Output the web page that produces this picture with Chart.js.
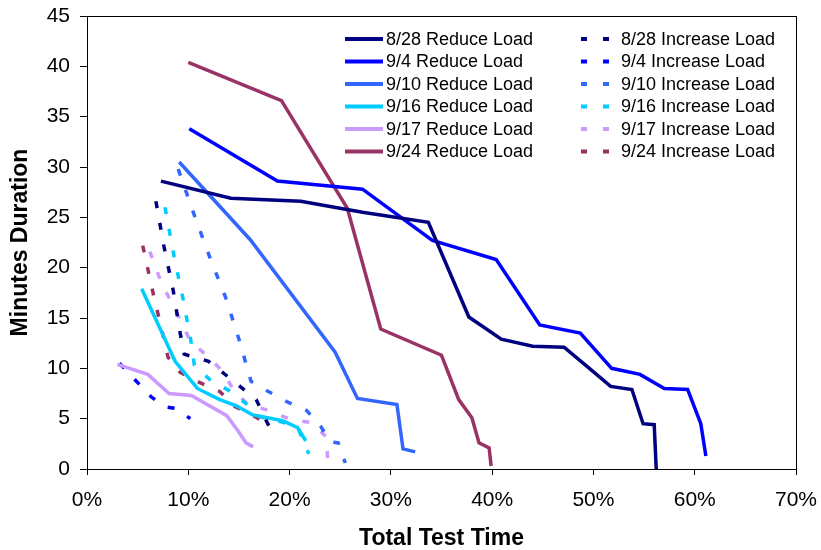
<!DOCTYPE html>
<html>
<head>
<meta charset="utf-8">
<script src="https://cdn.jsdelivr.net/npm/chart.js@4.4.0/dist/chart.umd.min.js"></script>
<style>
  html, body { margin: 0; padding: 0; background: #fff; }
  #wrap { width: 821px; height: 550px; }
</style>
</head>
<body>
<div id="wrap"><canvas id="loadChart" width="821" height="550"></canvas></div>
<script>
// tick values
const xTickValues = [0, 10, 20, 30, 40, 50, 60, 70];
const yTickValues = [0, 5, 10, 15, 20, 25, 30, 35, 40, 45];

// series names
const dates = ['8/28', '9/4', '9/10', '9/16', '9/17', '9/24'];

// reduce load runs: [% of total test time, minutes]
const reduce0828 = [[7.3,28.6],[14.2,26.9],[21.1,26.6],[27.2,25.5],[33.7,24.5],[37.7,15.1],[40.9,12.9],[44.0,12.2],[47.1,12.1],[49.6,10.0],[51.7,8.2],[53.8,7.9],[54.9,4.5],[56.0,4.4],[56.2,0.0]];
const reduce0904 = [[10.1,33.8],[18.8,28.6],[27.2,27.8],[34.1,22.7],[40.4,20.8],[44.7,14.3],[48.7,13.5],[51.8,10.0],[54.6,9.4],[57.0,8.0],[59.3,7.9],[60.6,4.5],[61.1,1.3]];
const reduce0910 = [[9.1,30.5],[16.1,22.8],[24.5,11.6],[26.7,7.0],[30.6,6.4],[31.2,2.0],[32.4,1.7]];
const reduce0916 = [[5.4,17.9],[8.7,10.7],[10.9,8.0],[13.1,6.9],[14.7,6.3],[16.3,5.4],[19.3,4.8],[20.8,4.1],[21.6,2.8]];
const reduce0917 = [[3.0,10.4],[6.0,9.4],[8.1,7.5],[10.3,7.3],[13.8,5.3],[14.9,3.8],[15.7,2.6],[16.4,2.2]];
const reduce0924 = [[10.0,40.4],[19.2,36.6],[25.7,25.9],[29.0,13.9],[35.0,11.3],[36.7,6.9],[38.0,5.1],[38.7,2.6],[39.7,2.1],[39.9,0.3]];

// increase load runs
const increase0828 = [[6.8,26.6],[7.6,22.1],[8.5,17.8],[9.2,13.5],[9.6,11.4],[12.0,10.7],[15.0,8.3],[16.7,6.9],[17.7,4.8],[18.5,3.2]];
const increase0904 = [[3.2,10.5],[6.3,7.2],[7.6,6.2],[8.8,6.0],[10.2,5.0]];
const increase0910 = [[9.0,29.8],[10.6,25.2],[12.1,21.1],[13.7,17.0],[15.0,12.9],[16.2,8.7],[17.9,7.7],[19.7,6.7],[21.7,5.8],[23.1,4.2],[24.0,2.7],[24.8,2.6],[25.5,0.6]];
const increase0916 = [[7.7,26.0],[8.6,21.1],[9.5,16.8],[10.3,12.5],[10.6,10.3],[12.1,8.9],[14.0,7.8],[15.7,6.5],[17.0,5.2],[19.5,4.6],[20.9,3.9],[21.9,1.5]];
const increase0917 = [[6.2,21.6],[7.3,18.6],[8.3,16.6],[9.3,14.6],[10.2,12.7],[11.8,11.3],[13.4,9.7],[14.5,7.8],[15.9,6.4],[18.0,5.8],[20.1,4.9],[22.2,4.6],[23.6,3.2],[23.8,0.5]];
const increase0924 = [[5.5,22.2],[6.5,17.6],[7.5,13.3],[8.0,11.1],[9.2,9.6],[11.1,8.6],[13.1,7.7],[14.6,6.2],[16.4,5.3],[18.3,4.2]];

const reduceRuns = [reduce0828, reduce0904, reduce0910, reduce0916, reduce0917, reduce0924];
const increaseRuns = [increase0828, increase0904, increase0910, increase0916, increase0917, increase0924];
const colors = ['#000080', '#0000FF', '#3366FF', '#00CCFF', '#CC99FF', '#993366'];

const FONT = "'Liberation Sans', Arial, sans-serif";
const DASH = [7, 15];

function toPoints(arr) {
    return arr.map(p => ({ x: p[0], y: p[1] }));
}

const datasets = [];
dates.forEach((d, i) => {
    datasets.push({
        label: d + ' Reduce Load',
        data: toPoints(reduceRuns[i]),
        borderColor: colors[i],
        borderWidth: 3.5,
        showLine: true,
        pointRadius: 0,
        tension: 0,
        fill: false
    });
});
dates.forEach((d, i) => {
    datasets.push({
        label: d + ' Increase Load',
        data: toPoints(increaseRuns[i]),
        borderColor: colors[i],
        borderWidth: 3.5,
        borderDash: DASH,
        borderCapStyle: 'butt',
        showLine: true,
        pointRadius: 0,
        tension: 0,
        fill: false
    });
});

// frame round the plot area + two column legend like the original
const framePlugin = {
    id: 'frameAndLegend',
    afterDraw(chart) {
        const ctx = chart.ctx;
        const a = chart.chartArea;
        ctx.save();
        ctx.strokeStyle = '#000';
        ctx.lineWidth = 1;
        ctx.strokeRect(Math.round(a.left) + 0.5, Math.round(a.top) + 0.5, Math.round(a.right - a.left), Math.round(a.bottom - a.top));

        ctx.font = '18px ' + FONT;
        ctx.textBaseline = 'middle';
        ctx.fillStyle = '#000';
        const rowY = 39, rowGap = 22.5;
        chart.data.datasets.forEach((ds, i) => {
            const col = i < 6 ? 0 : 1;
            const row = i % 6;
            const y = rowY + row * rowGap;
            ctx.strokeStyle = ds.borderColor;
            ctx.lineWidth = 4;
            ctx.lineCap = 'butt';
            ctx.beginPath();
            if (col === 0) {
                ctx.setLineDash([]);
                ctx.moveTo(345, y);
                ctx.lineTo(383, y);
            } else {
                ctx.setLineDash([6, 16]);
                ctx.moveTo(581, y);
                ctx.lineTo(610, y);
            }
            ctx.stroke();
            ctx.setLineDash([]);
            ctx.fillText(ds.label, col === 0 ? 386 : 621, y + 1);
        });
        ctx.restore();
    }
};

const config = {
    type: 'scatter',
    data: { datasets: datasets },
    options: {
        responsive: false,
        animation: false,
        devicePixelRatio: 1,
        layout: { padding: { top: 16, right: 25, left: 0, bottom: 0 } },
        plugins: {
            legend: { display: false },
            tooltip: { enabled: false }
        },
        scales: {
            x: {
                type: 'linear',
                min: 0,
                max: 70,
                afterBuildTicks: s => { s.ticks = xTickValues.map(v => ({ value: v })); },
                afterFit: s => { s.height = 81; s.paddingLeft = 0; s.paddingRight = 0; },
                grid: { drawOnChartArea: false, drawTicks: true, tickLength: 6, color: '#000' },
                border: { display: true, color: '#000' },
                ticks: {
                    color: '#000',
                    padding: 13,
                    maxRotation: 0,
                    font: { family: FONT, size: 21 },
                    callback: v => v + '%'
                },
                title: {
                    display: true,
                    text: 'Total Test Time',
                    color: '#000',
                    font: { family: FONT, size: 23, weight: 'bold', lineHeight: 1 },
                    padding: { top: 0, bottom: 0 }
                }
            },
            y: {
                type: 'linear',
                min: 0,
                max: 45,
                afterBuildTicks: s => { s.ticks = yTickValues.map(v => ({ value: v })); },
                afterFit: s => { s.width = 87; s.paddingTop = 0; s.paddingBottom = 0; },
                grid: { drawOnChartArea: false, drawTicks: true, tickLength: 7, color: '#000' },
                border: { display: true, color: '#000' },
                ticks: {
                    color: '#000',
                    padding: 10,
                    font: { family: FONT, size: 21 }
                },
                title: {
                    display: true,
                    text: 'Minutes Duration',
                    color: '#000',
                    font: { family: FONT, size: 23, weight: 'bold', lineHeight: 1 },
                    padding: { top: 9, bottom: 0 }
                }
            }
        }
    },
    plugins: [framePlugin]
};

const ctx = document.getElementById('loadChart').getContext('2d');
const loadChart = new Chart(ctx, config);
</script>
</body>
</html>
